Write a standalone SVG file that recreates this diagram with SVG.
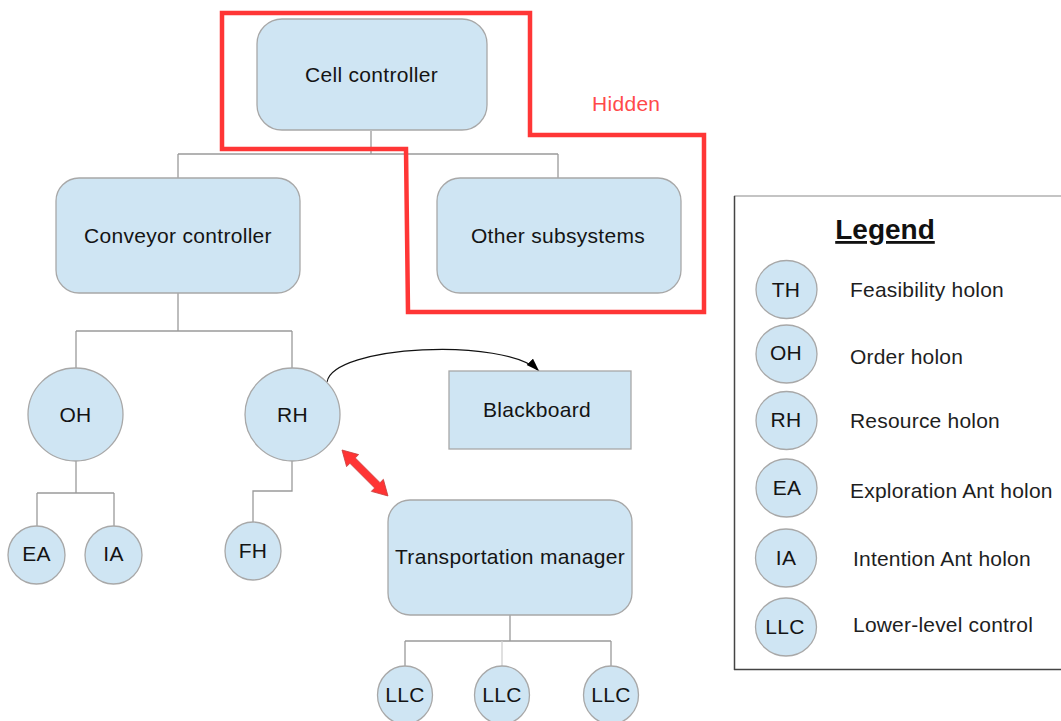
<svg xmlns="http://www.w3.org/2000/svg" width="1061" height="721" viewBox="0 0 1061 721">
<defs>
<style>
.node{fill:#cfe5f3;stroke:#a8a8a8;stroke-width:1.3}
.lbl{font-family:"Liberation Sans",Arial,sans-serif;font-size:21px;fill:#141414;text-anchor:middle;letter-spacing:0.3px}
.lg{font-family:"Liberation Sans",Arial,sans-serif;font-size:21px;fill:#1e1e1e;letter-spacing:0.2px}
.conn{stroke:#9a9a9a;stroke-width:1.3;fill:none}
</style>
<marker id="ah" markerUnits="userSpaceOnUse" markerWidth="14" markerHeight="10" refX="13" refY="4.5" orient="auto">
<path d="M0,0 L13,4.5 L0,9 z" fill="#000"/>
</marker>
</defs>
<rect width="1061" height="721" fill="#fff"/>

<g id="connectors">
<path class="conn" d="M371,131 V154 M178,154 H558 M178,154 V178 M558,154 V178"/>
<path class="conn" d="M178,293 V331 M76,331 H292 M76,331 V368 M292,331 V368"/>
<path class="conn" d="M76,461 V493 M37,493 H114 M37,493 V526 M114,493 V526"/>
<path class="conn" d="M292,461 V491 H253 V522"/>
<path class="conn" d="M510,615 V641 M405,641 H611 M405,641 V667 M611,641 V667"/>
<path d="M502,641 V667" stroke="#cfcfcf" stroke-width="1.3"/>
<path d="M327,382 C333,345 505,337 539,371" fill="none" stroke="#111" stroke-width="1.1" marker-end="url(#ah)"/>
<polygon transform="translate(342,450) rotate(45)" points="0,0 15,-8.5 15,-3.8 50,-3.8 50,-8.5 65,0 50,8.5 50,3.8 15,3.8 15,8.5" fill="#ff3434" stroke="#c84040" stroke-width="0.8"/>
</g>

<g id="hidden-region">
<polygon points="222,13 530,13 530,135 704,135 704,312 408,312 406,149 222,149" fill="none" stroke="#ff3636" stroke-width="4.5"/>
<text x="592" y="111" font-family="Liberation Sans,Arial,sans-serif" font-size="21" letter-spacing="0.3" fill="#ff4a4a">Hidden</text>
</g>

<g id="cell-controller">
<rect class="node" x="257" y="19" width="230" height="111" rx="25"/>
<text class="lbl" x="371.5" y="82">Cell controller</text>
</g>
<g id="conveyor-controller">
<rect class="node" x="56" y="178" width="244" height="115" rx="23"/>
<text class="lbl" x="178" y="243">Conveyor controller</text>
</g>
<g id="other-subsystems">
<rect class="node" x="437" y="178" width="244" height="115" rx="23"/>
<text class="lbl" x="558" y="243">Other subsystems</text>
</g>
<g id="oh">
<ellipse class="node" cx="75.5" cy="414.5" rx="47.5" ry="46.5"/>
<text class="lbl" x="75.5" y="422">OH</text>
</g>
<g id="rh">
<ellipse class="node" cx="292.5" cy="414.5" rx="47.5" ry="46.5"/>
<text class="lbl" x="292.5" y="422">RH</text>
</g>
<g id="blackboard">
<rect class="node" x="449" y="371" width="182" height="78"/>
<text class="lbl" x="537" y="417">Blackboard</text>
</g>
<g id="ea">
<ellipse class="node" cx="36.5" cy="555" rx="28.5" ry="29"/>
<text class="lbl" x="36.5" y="561">EA</text>
</g>
<g id="ia">
<ellipse class="node" cx="113.5" cy="555" rx="28.5" ry="29"/>
<text class="lbl" x="113.5" y="561">IA</text>
</g>
<g id="fh">
<ellipse class="node" cx="253" cy="551" rx="28" ry="29"/>
<text class="lbl" x="253" y="558">FH</text>
</g>
<g id="transportation-manager">
<rect class="node" x="388" y="500" width="244" height="115" rx="22"/>
<text class="lbl" x="510" y="564">Transportation manager</text>
</g>
<g id="llc1">
<ellipse class="node" cx="405" cy="695" rx="27.5" ry="29"/>
<text class="lbl" x="405" y="702">LLC</text>
</g>
<g id="llc2">
<ellipse class="node" cx="502" cy="695" rx="27.5" ry="29"/>
<text class="lbl" x="502" y="702">LLC</text>
</g>
<g id="llc3">
<ellipse class="node" cx="611" cy="695" rx="27.5" ry="29"/>
<text class="lbl" x="611" y="702">LLC</text>
</g>

<g id="legend">
<path d="M734,196 H1061" stroke="#c4c4c4" stroke-width="1.8"/>
<path d="M734.5,196 V670" stroke="#444" stroke-width="1.5"/>
<path d="M734,669.5 H1061" stroke="#444" stroke-width="1.5"/>
<text x="885" y="239" text-anchor="middle" font-family="Liberation Sans,Arial,sans-serif" font-size="28" font-weight="bold" fill="#111" text-decoration="underline">Legend</text>
<ellipse class="node" cx="786.5" cy="289.5" rx="30.5" ry="29"/>
<text class="lbl" x="786" y="297">TH</text>
<ellipse class="node" cx="786.5" cy="354" rx="30.5" ry="29"/>
<text class="lbl" x="786" y="360">OH</text>
<ellipse class="node" cx="786.5" cy="420.5" rx="30.5" ry="29"/>
<text class="lbl" x="786" y="427">RH</text>
<ellipse class="node" cx="786.5" cy="488" rx="30.5" ry="29"/>
<text class="lbl" x="787" y="495">EA</text>
<ellipse class="node" cx="786" cy="558" rx="30.5" ry="29"/>
<text class="lbl" x="786" y="565">IA</text>
<ellipse class="node" cx="786" cy="627" rx="30.5" ry="29"/>
<text class="lbl" x="785" y="634">LLC</text>
<text class="lg" x="850" y="297">Feasibility holon</text>
<text class="lg" x="850" y="364">Order holon</text>
<text class="lg" x="850" y="428">Resource holon</text>
<text class="lg" x="850" y="498">Exploration Ant holon</text>
<text class="lg" x="853" y="566">Intention Ant holon</text>
<text class="lg" x="853" y="632">Lower-level control</text>
</g>
</svg>
